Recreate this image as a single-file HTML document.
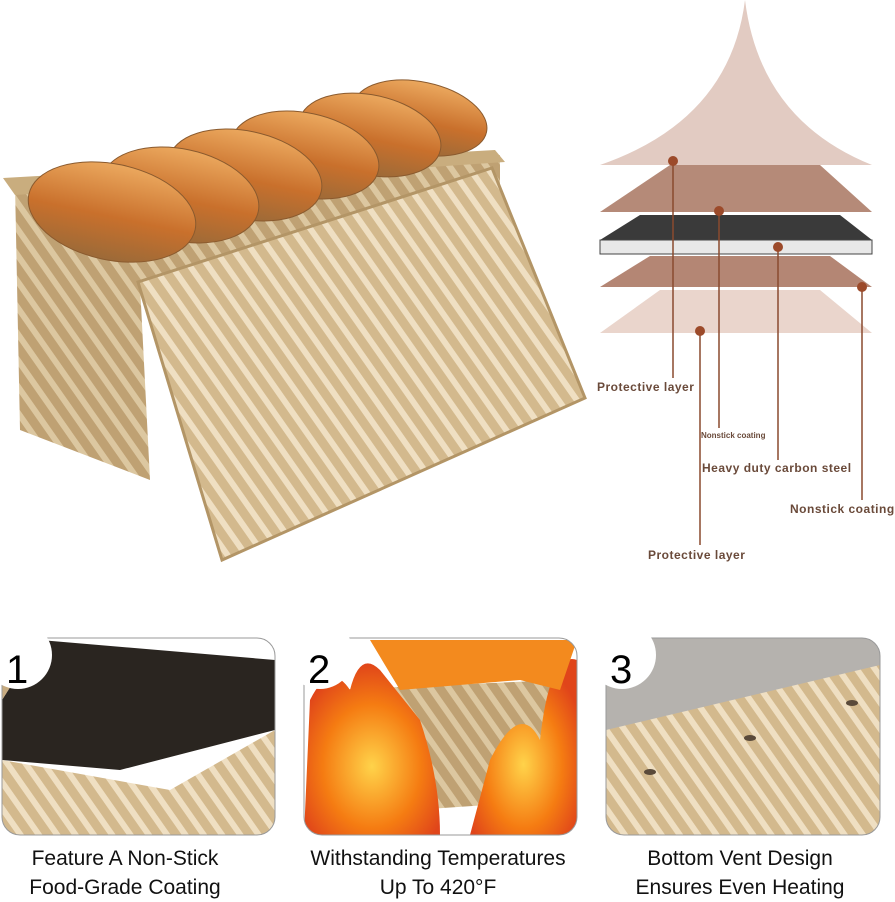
<!DOCTYPE html>
<html><head><meta charset="utf-8"><style>
body{margin:0;background:#fff;width:895px;height:900px;overflow:hidden;font-family:"Liberation Sans",sans-serif}
svg{position:absolute;left:0;top:0}
.cap{position:absolute;width:290px;text-align:center;font-size:21px;line-height:29px;color:#111}
</style></head><body>
<svg width="895" height="900" viewBox="0 0 895 900">
<defs>
<pattern id="st" width="15" height="15" patternUnits="userSpaceOnUse" patternTransform="rotate(-35)">
<rect width="15" height="15" fill="#d3b98d"/><rect width="6" height="15" fill="#efdfc2"/></pattern>
<pattern id="st2" width="15" height="15" patternUnits="userSpaceOnUse" patternTransform="rotate(-35)">
<rect width="15" height="15" fill="#bfa173"/><rect width="6" height="15" fill="#dcc7a0"/></pattern>
<linearGradient id="br" x1="0" y1="0" x2="0" y2="1"><stop offset="0" stop-color="#eba85e"/><stop offset=".55" stop-color="#c9702c"/><stop offset="1" stop-color="#9c6a38"/></linearGradient>
<radialGradient id="fire" cx=".5" cy=".6" r=".6"><stop offset="0" stop-color="#ffd34a"/><stop offset=".6" stop-color="#f57c12"/><stop offset="1" stop-color="#e0451a"/></radialGradient>
<clipPath id="c1"><rect x="2" y="638" width="273" height="197" rx="18"/></clipPath>
<clipPath id="c2"><rect x="304" y="638" width="273" height="197" rx="18"/></clipPath>
<clipPath id="c3"><rect x="606" y="638" width="274" height="197" rx="18"/></clipPath>
</defs>
<!-- pan body -->
<polygon points="15,185 500,155 500,250 140,285 150,480 20,430" fill="url(#st2)"/>
<polygon points="3,178 495,150 505,162 15,195" fill="#c9ad7e"/>
<!-- bread -->
<g fill="url(#br)" stroke="#8a5a2e" stroke-width="1">
<ellipse cx="420" cy="118" rx="68" ry="36" transform="rotate(12 420 118)"/>
<ellipse cx="370" cy="135" rx="72" ry="40" transform="rotate(12 370 135)"/>
<ellipse cx="305" cy="155" rx="75" ry="42" transform="rotate(12 305 155)"/>
<ellipse cx="245" cy="175" rx="78" ry="44" transform="rotate(12 245 175)"/>
<ellipse cx="180" cy="195" rx="80" ry="46" transform="rotate(12 180 195)"/>
<ellipse cx="112" cy="212" rx="85" ry="48" transform="rotate(12 112 212)"/>
</g>
<!-- lid -->
<polygon points="138,282 492,168 585,398 222,560" fill="url(#st)" stroke="#b39566" stroke-width="3"/>
<!-- layers -->
<path d="M745,0 Q760,120 872,165 L600,165 Q730,120 745,0Z" fill="#e2cbc2"/>
<polygon points="670,165 820,165 872,212 600,212" fill="#b58a78"/>
<polygon points="640,215 840,215 872,240 600,240" fill="#3a3a3a"/>
<rect x="600" y="240" width="272" height="14" fill="#e8e8e8" stroke="#444"/>
<polygon points="650,256 830,256 872,287 600,287" fill="#b48674"/>
<polygon points="660,290 820,290 872,333 600,333" fill="#ead5cc"/>
<g stroke="#8a4a2e" stroke-width="1.5">
<line x1="673" y1="161" x2="673" y2="378"/><line x1="719" y1="211" x2="719" y2="428"/>
<line x1="778" y1="247" x2="778" y2="460"/><line x1="862" y1="287" x2="862" y2="500"/>
<line x1="700" y1="331" x2="700" y2="545"/></g>
<g fill="#9c4a2a"><circle cx="673" cy="161" r="5"/><circle cx="719" cy="211" r="5"/><circle cx="778" cy="247" r="5"/><circle cx="862" cy="287" r="5"/><circle cx="700" cy="331" r="5"/></g>
<g fill="#6a4a3a" font-family="Liberation Sans" font-size="12" font-weight="bold" letter-spacing="0.5">
<text x="597" y="391">Protective layer</text>
<text x="701" y="438" font-size="8" letter-spacing="0">Nonstick coating</text>
<text x="702" y="472">Heavy duty carbon steel</text>
<text x="790" y="513">Nonstick coating</text>
<text x="648" y="559">Protective layer</text></g>
<!-- panel 1 -->
<g clip-path="url(#c1)"><rect x="2" y="638" width="273" height="197" fill="#fff"/>
<polygon points="40,640 275,660 275,730 120,770 2,760 2,700" fill="#2a2520"/>
<polygon points="2,760 170,790 275,730 275,835 2,835" fill="url(#st)"/>
<polygon points="2,640 40,640 2,700" fill="#c7ab80"/></g>
<rect x="2" y="638" width="273" height="197" rx="18" fill="none" stroke="#999"/>
<!-- panel 2 -->
<g clip-path="url(#c2)"><rect x="304" y="638" width="273" height="197" fill="#fff"/>
<polygon points="330,690 560,680 560,800 340,815" fill="url(#st2)"/>
<path d="M304,835 L310,700 Q330,660 350,690 Q360,650 380,670 L420,720 Q440,780 440,835Z" fill="url(#fire)"/>
<path d="M470,835 L490,760 Q520,700 540,740 Q550,650 577,660 L577,835Z" fill="url(#fire)"/>
<path d="M370,640 L577,640 L560,690 L520,680 L400,690Z" fill="#f38a1e"/></g>
<rect x="304" y="638" width="273" height="197" rx="18" fill="none" stroke="#999"/>
<!-- panel 3 -->
<g clip-path="url(#c3)"><rect x="606" y="638" width="274" height="197" fill="#b5b2ae"/>
<polygon points="606,730 880,665 880,835 606,835" fill="url(#st)"/>
<g fill="#5a4a3a"><ellipse cx="650" cy="772" rx="6" ry="3"/><ellipse cx="750" cy="738" rx="6" ry="3"/><ellipse cx="852" cy="703" rx="6" ry="3"/></g></g>
<rect x="606" y="638" width="274" height="197" rx="18" fill="none" stroke="#999"/>
<g fill="#fff"><circle cx="18" cy="655" r="34"/><circle cx="320" cy="655" r="34"/><circle cx="622" cy="655" r="34"/></g>
<g font-family="Liberation Sans" font-size="40" fill="#000"><text x="6" y="683">1</text><text x="308" y="683">2</text><text x="610" y="683">3</text></g>
</svg>
<div class="cap" style="left:-20px;top:844px">Feature A Non-Stick<br>Food-Grade Coating</div>
<div class="cap" style="left:293px;top:844px">Withstanding Temperatures<br>Up To 420°F</div>
<div class="cap" style="left:595px;top:844px">Bottom Vent Design<br>Ensures Even Heating</div>
</body></html>
